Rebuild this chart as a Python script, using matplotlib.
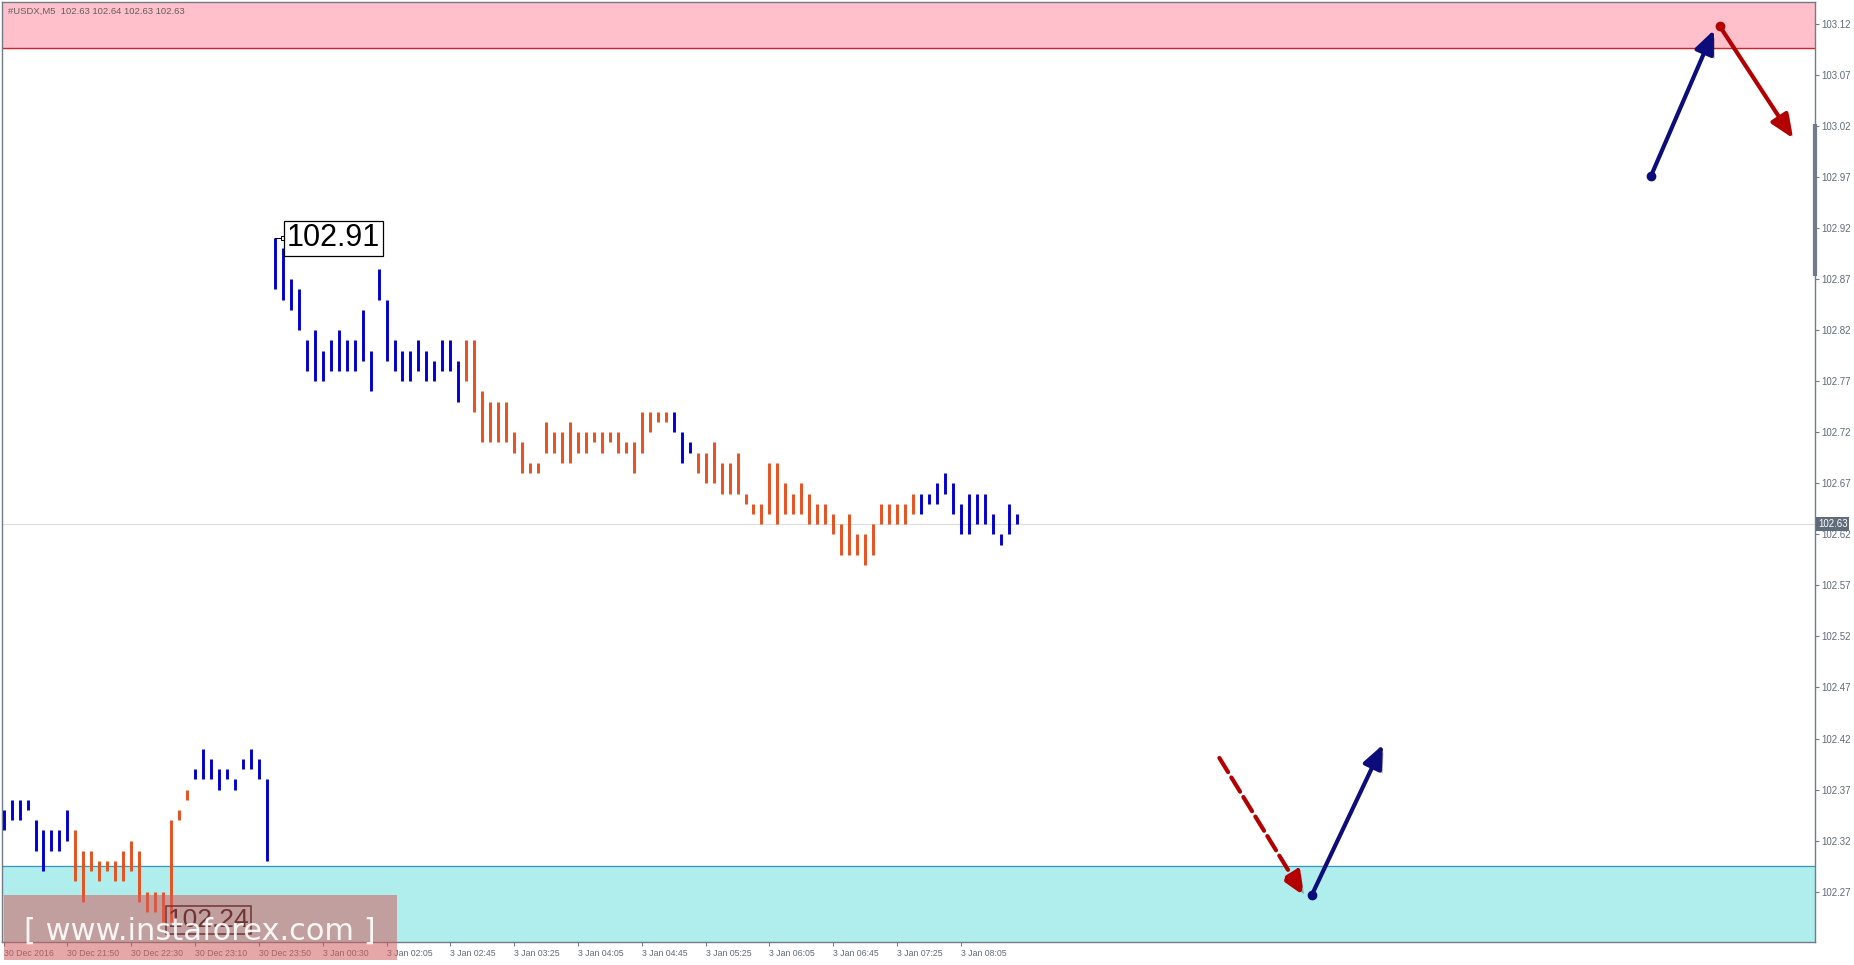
import numpy as np
import matplotlib.pyplot as plt
import matplotlib.transforms as mtransforms
import matplotlib.patheffects as pe
from matplotlib.patches import Rectangle

# USDX M5 bars (high / low)
highs = [102.35, 102.36, 102.36, 102.36, 102.34, 102.33, 102.33, 102.33, 102.35,
         102.33, 102.31, 102.31, 102.30, 102.30, 102.30, 102.31, 102.32, 102.31,
         102.27, 102.27, 102.27, 102.34, 102.35, 102.37,
         102.39, 102.41, 102.40, 102.39, 102.39, 102.38, 102.40, 102.41, 102.40, 102.38,
         102.91, 102.90, 102.87, 102.86, 102.81, 102.82, 102.80, 102.81, 102.82, 102.81,
         102.81, 102.84, 102.80, 102.88, 102.85, 102.81, 102.80, 102.80, 102.81, 102.80,
         102.79, 102.81, 102.81, 102.79,
         102.81, 102.81, 102.76, 102.75, 102.75, 102.75, 102.72, 102.71, 102.69, 102.69,
         102.73, 102.72, 102.72, 102.73, 102.72, 102.72, 102.72, 102.72, 102.72, 102.72,
         102.71, 102.71, 102.74, 102.74, 102.74, 102.74,
         102.74, 102.72, 102.71,
         102.70, 102.70, 102.71, 102.69, 102.69, 102.70, 102.66, 102.65, 102.65, 102.69,
         102.69, 102.67, 102.66, 102.67, 102.66, 102.65, 102.65, 102.64, 102.63, 102.64,
         102.62, 102.62, 102.63, 102.65, 102.65, 102.65, 102.65, 102.66,
         102.66, 102.66, 102.67, 102.68, 102.67, 102.65, 102.66, 102.66, 102.66, 102.64,
         102.62, 102.65, 102.64]
lows = [102.33, 102.34, 102.34, 102.35, 102.31, 102.29, 102.31, 102.31, 102.32,
        102.28, 102.26, 102.29, 102.28, 102.29, 102.28, 102.28, 102.29, 102.26,
        102.25, 102.25, 102.24, 102.24, 102.34, 102.36,
        102.38, 102.38, 102.38, 102.37, 102.38, 102.37, 102.39, 102.39, 102.38, 102.30,
        102.86, 102.85, 102.84, 102.82, 102.78, 102.77, 102.77, 102.78, 102.78, 102.78,
        102.78, 102.79, 102.76, 102.85, 102.79, 102.78, 102.77, 102.77, 102.78, 102.77,
        102.77, 102.78, 102.78, 102.75,
        102.77, 102.74, 102.71, 102.71, 102.71, 102.71, 102.70, 102.68, 102.68, 102.68,
        102.70, 102.70, 102.69, 102.69, 102.70, 102.70, 102.71, 102.70, 102.71, 102.70,
        102.70, 102.68, 102.70, 102.72, 102.73, 102.73,
        102.72, 102.69, 102.70,
        102.68, 102.67, 102.67, 102.66, 102.66, 102.66, 102.65, 102.64, 102.63, 102.64,
        102.63, 102.64, 102.64, 102.64, 102.63, 102.63, 102.63, 102.62, 102.60, 102.60,
        102.60, 102.59, 102.60, 102.63, 102.63, 102.63, 102.63, 102.64,
        102.64, 102.65, 102.65, 102.66, 102.64, 102.62, 102.62, 102.63, 102.63, 102.62,
        102.61, 102.62, 102.63]
# wave colouring: (colour, number of bars)
wave_runs = [('blue', 9), ('orange', 15), ('blue', 34), ('orange', 26),
             ('blue', 3), ('orange', 28), ('blue', 13)]

x_tick_pos = [0, 8, 16, 24, 32, 40, 48, 56, 64, 72, 80, 88, 96, 104, 112, 120]
x_tick_labels = ['30 Dec 2016', '30 Dec 21:50', '30 Dec 22:30', '30 Dec 23:10',
                 '30 Dec 23:50', '3 Jan 00:30', '3 Jan 02:05', '3 Jan 02:45',
                 '3 Jan 03:25', '3 Jan 04:05', '3 Jan 04:45', '3 Jan 05:25',
                 '3 Jan 06:05', '3 Jan 06:45', '3 Jan 07:25', '3 Jan 08:05']
y_ticks = [102.27, 102.32, 102.37, 102.42, 102.47, 102.52, 102.57, 102.62, 102.67,
           102.72, 102.77, 102.82, 102.87, 102.92, 102.97, 103.02, 103.07, 103.12]

resistance_low = 103.096
support_high = 102.295
last_price = 102.63

# forecast arrows: (x0, y0, x1, y1, colour, dashed)
arrows = [(206.5, 102.971, 214.4, 103.114, '#0c0c7a', False),
          (215.1, 103.118, 224.3, 103.008, '#b30000', False),
          (152.4, 102.401, 163.0, 102.266, '#b30000', True),
          (164.0, 102.267, 172.9, 102.414, '#0c0c7a', False)]

palette = {'blue': '#0000d2', 'orange': '#e8501e'}
colors = []
for c, n in wave_runs:
    colors += [palette[c]] * n
xs = np.arange(len(highs))

small_font = 'Liberation Sans'
grey = '#5f6b78'

fig = plt.figure(figsize=(18.54, 9.65), dpi=100)
ax = fig.add_axes([0.0013, 0.0238, 0.9774, 0.9737])
ax.set_xlim(-0.15, 227)
ax.set_ylim(102.2207, 103.141)

ax.axhspan(resistance_low, 103.3, color='#ffc0cb', zorder=0)
ax.axhline(resistance_low, color='#c8282d', lw=1.0, zorder=1)
ax.axhspan(102.0, support_high, color='#b0eded', zorder=0)
ax.axhline(support_high, color='#3c98b8', lw=0.9, zorder=1)
ax.axhline(last_price, color='#dcdcdc', lw=0.8, zorder=1)

ax.vlines(xs, lows, highs, colors=colors, lw=2.1, zorder=3)

# extreme labels
i_hi = int(np.argmax(highs))
i_lo = int(np.argmin(lows))
ax.plot([i_hi, i_hi + 1.0], [highs[i_hi]] * 2, color='black', lw=0.8, zorder=4)
ax.plot(i_hi + 1.0, highs[i_hi], 's', ms=3, mfc='white', mec='black', mew=0.7, zorder=5)
ax.text(i_hi + 1.5, highs[i_hi], '%.2f' % highs[i_hi], family='Liberation Sans',
        fontsize=22, va='center', ha='left', zorder=5,
        bbox=dict(facecolor='white', edgecolor='black', lw=0.9, pad=2))
ax.text(i_lo + 0.6, lows[i_lo] + 0.002, '%.2f' % lows[i_lo], family='Liberation Sans',
        fontsize=19, va='center', ha='left', zorder=5,
        bbox=dict(facecolor='none', edgecolor='black', lw=1.1, pad=1.5))

for x0, y0, x1, y1, col, dashed in arrows:
    ax.annotate('', xy=(x1, y1), xytext=(x0, y0), zorder=6,
                arrowprops=dict(arrowstyle='-|>,head_length=1.4,head_width=0.6',
                                color=col, lw=3, shrinkA=0, shrinkB=0,
                                linestyle=(0, (4, 1.5)) if dashed else '-',
                                path_effects=[pe.SimplePatchShadow(offset=(2, -2), alpha=0.3),
                                              pe.Normal()]))
    if not dashed:
        ax.plot(x0, y0, 'o', ms=6, color=col, zorder=7)

# axes styling
for s in ax.spines.values():
    s.set_color('#707c88')
    s.set_linewidth(1.0)
ax.yaxis.tick_right()
ax.set_yticks(y_ticks)
ax.set_yticklabels(['%.2f' % v for v in y_ticks], family=small_font)
ax.tick_params(axis='y', direction='out', length=3, color='#707c88',
               labelsize=7, labelcolor=grey, pad=2)
ax.set_xticks(x_tick_pos)
ax.set_xticklabels(x_tick_labels, ha='left', family=small_font)
ax.tick_params(axis='x', direction='out', length=3, color='#707c88',
               labelsize=6.3, labelcolor=grey, pad=2)

trans = mtransforms.blended_transform_factory(ax.transAxes, ax.transData)
ax.plot([1.0, 1.0], [103.02, 102.875], transform=trans, color='#707c88', lw=3,
        clip_on=False, zorder=8)
ax.text(1.002, last_price, '%.2f' % last_price, transform=trans, fontsize=7,
        family=small_font, color='white', va='center', ha='left', zorder=9,
        bbox=dict(facecolor=grey, edgecolor='none', pad=1.2))

fig.text(0.0045, 0.988, '#USDX,M5  102.63 102.64 102.63 102.63', fontsize=6.8,
         family=small_font, color='#606060', va='center')

# watermark
fig.patches.append(Rectangle((0.0019, 0.0052), 0.212, 0.0673, transform=fig.transFigure,
                             facecolor='#d06060', alpha=0.55, edgecolor='none', zorder=10))
fig.text(0.108, 0.035, '[ www.instaforex.com ]', fontsize=22, color='white',
         alpha=0.9, ha='center', va='center', zorder=11)

fig.savefig('out.png', dpi=100)
